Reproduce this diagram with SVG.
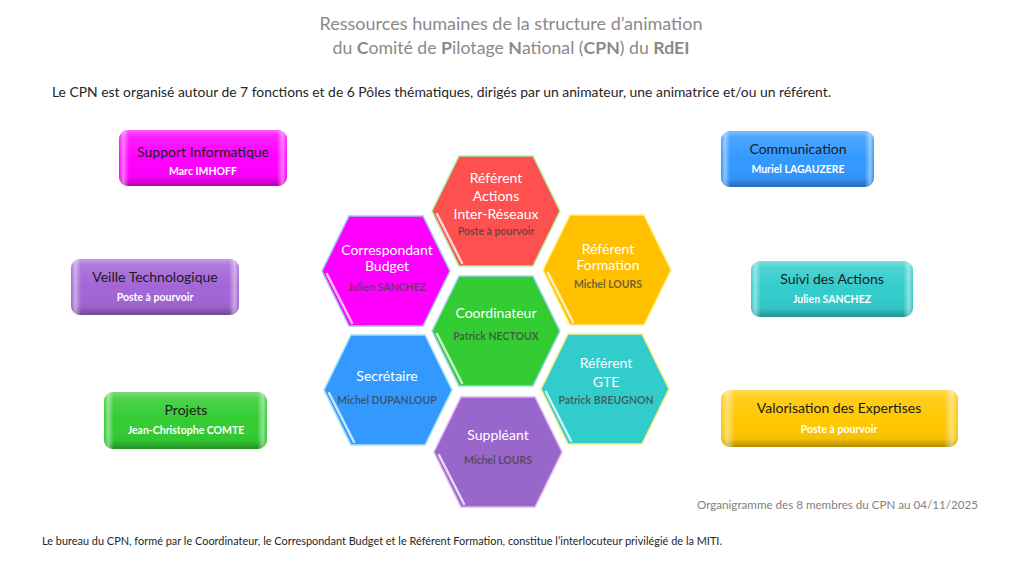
<svg xmlns="http://www.w3.org/2000/svg" width="1024" height="576" viewBox="0 0 1024 576">
<style>
text{font-family:Lato,"Open Sans","Liberation Sans",sans-serif}
.ttl{font-size:17.5px;fill:#8a8a8a;text-anchor:middle}
.b{font-weight:bold}
.sub{font-size:13.3px;fill:#262626}
.foot{font-size:10.5px;fill:#262626}
.org{font-size:11.5px;fill:#7f7f7f}
.ht{font-size:14px;fill:#ffffff;text-anchor:middle}
.hn{font-size:10.5px;font-weight:bold;fill:#404040;fill-opacity:.75;text-anchor:middle}
.rt{font-size:14px;fill:#1a1a1a;text-anchor:middle}
.rn{font-size:10.5px;font-weight:bold;fill:#ffffff;text-anchor:middle}
.hex{stroke-width:1.5}
.bev{fill:none;stroke:#ffffff;stroke-width:2.5;stroke-opacity:.75;stroke-linecap:round}
</style>
<defs>
<polygon id="hx" points="-64,0 -37,-55 37,-55 64,0 37,55 -37,55"/>
<polyline id="hb" points="-59,3 -34,52"/>
<linearGradient id="gv" x1="0" y1="0" x2="0" y2="1">
<stop offset="0" stop-color="#fff" stop-opacity=".35"/>
<stop offset=".12" stop-color="#fff" stop-opacity=".12"/>
<stop offset=".5" stop-color="#fff" stop-opacity="0"/>
<stop offset=".85" stop-color="#000" stop-opacity=".04"/>
<stop offset="1" stop-color="#000" stop-opacity=".3"/>
</linearGradient>
<linearGradient id="gh" x1="0" y1="0" x2="1" y2="0">
<stop offset="0" stop-color="#fff" stop-opacity="0"/>
<stop offset=".025" stop-color="#fff" stop-opacity=".45"/>
<stop offset=".06" stop-color="#fff" stop-opacity="0"/>
<stop offset=".94" stop-color="#fff" stop-opacity="0"/>
<stop offset=".975" stop-color="#fff" stop-opacity=".45"/>
<stop offset="1" stop-color="#fff" stop-opacity="0"/>
</linearGradient>
</defs>
<rect width="1024" height="576" fill="#ffffff"/>

<g id="titre">
<text class="ttl" x="511" y="30" textLength="383" lengthAdjust="spacingAndGlyphs">Ressources humaines de la structure d’animation</text>
<text class="ttl" x="511" y="54" textLength="357" lengthAdjust="spacingAndGlyphs">du <tspan class="b">C</tspan>omité de <tspan class="b">P</tspan>ilotage <tspan class="b">N</tspan>ational (<tspan class="b">CPN</tspan>) du <tspan class="b">RdEI</tspan></text>
<text class="sub" x="52" y="97" textLength="779" lengthAdjust="spacingAndGlyphs">Le CPN est organisé autour de 7 fonctions et de 6 Pôles thématiques, dirigés par un animateur, une animatrice et/ou un référent.</text>
</g>

<g id="hex-referent-actions">
<use href="#hx" x="496" y="211" fill="#ff5050" stroke="#a8f0a0" class="hex"/>
<use href="#hb" x="496" y="211" class="bev"/>
<text class="ht" x="496" y="183">Référent</text>
<text class="ht" x="496" y="201">Actions</text>
<text class="ht" x="496" y="219">Inter-Réseaux</text>
<text class="hn" x="496" y="235">Poste à pourvoir</text>
</g>
<g id="hex-correspondant-budget">
<use href="#hx" x="386" y="271" fill="#ff00ff" stroke="#9cc8f0" class="hex"/>
<use href="#hb" x="386" y="271" class="bev"/>
<text class="ht" x="387" y="255">Correspondant</text>
<text class="ht" x="387" y="271">Budget</text>
<text class="hn" x="387" y="291">Julien SANCHEZ</text>
</g>
<g id="hex-referent-formation">
<use href="#hx" x="607" y="270" fill="#ffc000" stroke="#fff080" class="hex"/>
<use href="#hb" x="607" y="270" class="bev"/>
<text class="ht" x="608" y="254">Référent</text>
<text class="ht" x="608" y="270">Formation</text>
<text class="hn" x="608" y="288">Michel LOURS</text>
</g>
<g id="hex-coordinateur">
<use href="#hx" x="496" y="331" fill="#33cc33" stroke="#a0d8f0" class="hex"/>
<use href="#hb" x="496" y="331" class="bev"/>
<text class="ht" x="496" y="318">Coordinateur</text>
<text class="hn" x="496" y="340">Patrick NECTOUX</text>
</g>
<g id="hex-secretaire">
<use href="#hx" x="388" y="390" fill="#3399ff" stroke="#a0e0f8" class="hex"/>
<use href="#hb" x="388" y="390" class="bev"/>
<text class="ht" x="387" y="381">Secrétaire</text>
<text class="hn" x="387" y="404">Michel DUPANLOUP</text>
</g>
<g id="hex-referent-gte">
<use href="#hx" x="605" y="389" fill="#33cccc" stroke="#f8f080" class="hex"/>
<use href="#hb" x="605" y="389" class="bev"/>
<text class="ht" x="606" y="368">Référent</text>
<text class="ht" x="606" y="387">GTE</text>
<text class="hn" x="606" y="404">Patrick BREUGNON</text>
</g>
<g id="hex-suppleant">
<use href="#hx" x="498" y="452" fill="#9966cc" stroke="#e0b0f0" class="hex"/>
<use href="#hb" x="498" y="452" class="bev"/>
<text class="ht" x="498" y="440">Suppléant</text>
<text class="hn" x="498" y="464">Michel LOURS</text>
</g>

<g id="pole-support-informatique">
<rect x="119" y="130" width="168" height="56" rx="9" fill="#ff00ff"/>
<rect x="119" y="130" width="168" height="56" rx="9" fill="url(#gv)"/>
<rect x="119" y="130" width="168" height="56" rx="9" fill="url(#gh)"/>
<text class="rt" x="203" y="157">Support Informatique</text>
<text class="rn" x="203" y="175">Marc IMHOFF</text>
</g>
<g id="pole-veille-technologique">
<rect x="71" y="259" width="168" height="56" rx="9" fill="#a366d6"/>
<rect x="71" y="259" width="168" height="56" rx="9" fill="url(#gv)"/>
<rect x="71" y="259" width="168" height="56" rx="9" fill="url(#gh)"/>
<text class="rt" x="155" y="282">Veille Technologique</text>
<text class="rn" x="155" y="301">Poste à pourvoir</text>
</g>
<g id="pole-projets">
<rect x="104" y="392" width="163" height="57" rx="9" fill="#33cc33"/>
<rect x="104" y="392" width="163" height="57" rx="9" fill="url(#gv)"/>
<rect x="104" y="392" width="163" height="57" rx="9" fill="url(#gh)"/>
<text class="rt" x="186" y="415">Projets</text>
<text class="rn" x="186" y="434">Jean-Christophe COMTE</text>
</g>
<g id="pole-communication">
<rect x="721" y="131" width="153" height="56" rx="9" fill="#3399ff"/>
<rect x="721" y="131" width="153" height="56" rx="9" fill="url(#gv)"/>
<rect x="721" y="131" width="153" height="56" rx="9" fill="url(#gh)"/>
<text class="rt" x="798" y="154">Communication</text>
<text class="rn" x="798" y="173">Muriel LAGAUZERE</text>
</g>
<g id="pole-suivi-actions">
<rect x="751" y="261" width="162" height="56" rx="9" fill="#33cccc"/>
<rect x="751" y="261" width="162" height="56" rx="9" fill="url(#gv)"/>
<rect x="751" y="261" width="162" height="56" rx="9" fill="url(#gh)"/>
<text class="rt" x="832" y="284">Suivi des Actions</text>
<text class="rn" x="832" y="303">Julien SANCHEZ</text>
</g>
<g id="pole-valorisation-expertises">
<rect x="721" y="390" width="237" height="57" rx="9" fill="#ffc800"/>
<rect x="721" y="390" width="237" height="57" rx="9" fill="url(#gv)"/>
<rect x="721" y="390" width="237" height="57" rx="9" fill="url(#gh)"/>
<text class="rt" x="839" y="413">Valorisation des Expertises</text>
<text class="rn" x="839" y="433">Poste à pourvoir</text>
</g>

<g id="notes">
<text class="org" x="697" y="509" textLength="281" lengthAdjust="spacingAndGlyphs">Organigramme des 8 membres du CPN au 04/11/2025</text>
<text class="foot" x="42" y="545" textLength="680" lengthAdjust="spacingAndGlyphs">Le bureau du CPN, formé par le Coordinateur, le Correspondant Budget et le Référent Formation, constitue l’interlocuteur privilégié de la MITI.</text>
</g>
</svg>
